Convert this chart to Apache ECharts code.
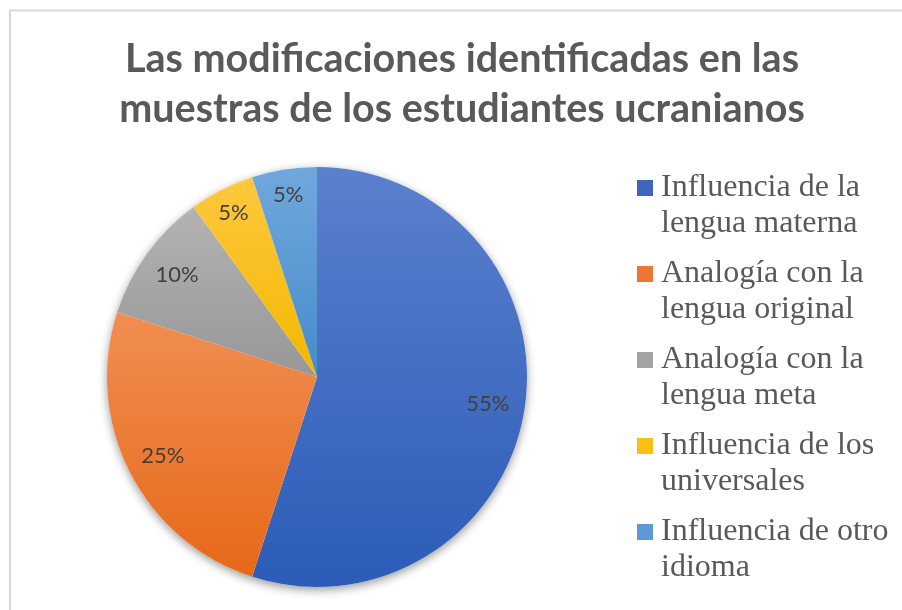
<!DOCTYPE html>
<html><head><meta charset="utf-8">
<script src="https://cdn.jsdelivr.net/npm/echarts@6/dist/echarts.min.js"></script>
<style>html,body{margin:0;padding:0;background:#fff}#c{width:902px;height:610px}</style>
</head><body><div id="c"></div>
<script>
const titleText = 'Las modificaciones identificadas en las\nmuestras de los estudiantes ucranianos';
const categories = [
  'Influencia de la\nlengua materna',
  'Analogía con la\nlengua original',
  'Analogía con la\nlengua meta',
  'Influencia de los\nuniversales',
  'Influencia de otro\nidioma'
];
const values = [55, 25, 10, 5, 5];
const topColors = ['#5B80CD', '#F18E52', '#B3B3B3', '#FFC83E', '#70A8DD'];
const bottomColors = ['#2C5CB8', '#E66918', '#979797', '#F2B700', '#468BCA'];
const markerColors = ['#3E66C0', '#EC7632', '#A3A3A3', '#FABF10', '#5B9AD6'];

const chart = echarts.init(document.getElementById('c'));
const center = [317, 377];
const R = 210;

const mainData = categories.map((n, i) => ({
  name: n, value: values[i],
  itemStyle: {
    color: new echarts.graphic.LinearGradient(0, 0, 0, 1, [
      { offset: 0, color: topColors[i] },
      { offset: 1, color: bottomColors[i] }
    ])
  }
}));
const labelData = categories.map((n, i) => ({ name: n, value: values[i] }));

const labelSeries = (inner, test) => ({
  type: 'pie', center, radius: [inner, R], silent: true, legendHoverLink: false,
  z: 5, itemStyle: { color: 'rgba(0,0,0,0)', borderWidth: 0 },
  emphasis: { disabled: true },
  label: {
    show: true, position: 'inside', color: '#404040',
    fontFamily: 'Lato', fontSize: 22,
    formatter: p => test(p.value) ? p.value + '%' : ''
  },
  labelLine: { show: false },
  data: labelData
});

chart.setOption({
  animation: false,
  backgroundColor: '#fff',
  graphic: [{
    type: 'rect', shape: { x: 10, y: 10.5, width: 1000, height: 1000 },
    style: { fill: 'none', stroke: '#d9d9d9', lineWidth: 2 }, silent: true, z: -10
  }],
  title: {
    text: titleText, left: 462, textAlign: 'center', top: 34, padding: 0,
    textStyle: { fontFamily: 'Lato', fontWeight: 'bold', fontSize: 39.5, lineHeight: 50, color: '#595959' }
  },
  legend: {
    orient: 'vertical', left: 637, top: 170, padding: 0, itemGap: 14,
    itemWidth: 19, itemHeight: 72,
    icon: 'path://M0,0h0.01v0.01h-0.01z M0,10h16v16h-16z M18.99,71.99h0.01v0.01h-0.01z',
    textStyle: { fontFamily: 'Liberation Serif', fontSize: 32, lineHeight: 36, color: '#595959' },
    data: categories.map((n, i) => ({ name: n, itemStyle: { color: markerColors[i] } }))
  },
  series: [
    {
      type: 'pie', center, radius: R, silent: true, legendHoverLink: false, z: 1,
      itemStyle: { color: '#fff', shadowBlur: 10, shadowOffsetY: 3, shadowColor: 'rgba(0,0,0,0.4)' },
      label: { show: false }, labelLine: { show: false },
      data: [{ name: '__bg', value: 1 }]
    },
    {
      type: 'pie', center, radius: R, z: 2,
      itemStyle: { borderWidth: 0 },
      label: { show: false }, labelLine: { show: false },
      data: mainData
    },
    labelSeries(130, v => v >= 10),
    labelSeries(152, v => v < 10)
  ]
});
</script></body></html>
